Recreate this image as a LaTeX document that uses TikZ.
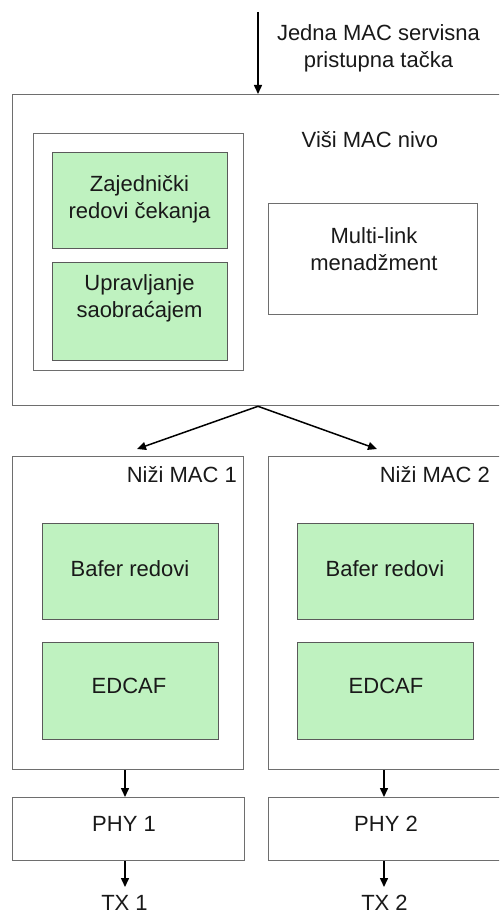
\documentclass[tikz,border=0pt]{standalone}
\usepackage{fontspec}
\setmainfont{Liberation Sans}
\usetikzlibrary{arrows.meta}
\definecolor{boxgreen}{HTML}{BFF2C0}
\definecolor{edge}{HTML}{6E6E6E}
\definecolor{greenedge}{HTML}{5A5A5A}
\begin{document}
\begin{tikzpicture}[x=1pt,y=-1pt,
  font=\fontsize{22}{27}\selectfont,
  frame/.style={draw=edge, line width=1.3pt, inner sep=0pt, anchor=north west},
  greenbox/.style={frame, fill=boxgreen, draw=greenedge},
  lbl/.style={inner sep=0pt, align=center, text=black!90},
  flow/.style={-{Triangle[length=9pt,width=8pt]}, line width=1.5pt, black}]
\useasboundingbox (0,0) rectangle (499,915);
\clip (0,0) rectangle (499,915);

% upper MAC layer
\node[frame, minimum width=498, minimum height=311] (upper) at (12,94) {};
\node[lbl, anchor=base] (uppertext) at (370,147) {Viši MAC nivo};
\node[frame, minimum width=210, minimum height=237] (shared) at (33,133) {};
\node[greenbox, minimum width=175, minimum height=96] (queues) at (52,152) {};
\node[lbl] (queuestext) at (139.5,199) {Zajednički\\redovi čekanja};
\node[greenbox, minimum width=175, minimum height=98] (traffic) at (52,262) {};
\node[lbl] (traffictext) at (139.5,298) {Upravljanje\\saobraćajem};
\node[frame, minimum width=209, minimum height=111] (multilink) at (268,203) {};
\node[lbl] (multilinktext) at (374,249) {Multi-link\\menadžment};

% service access point
\node[lbl] (saptext) at (378.5,48) {Jedna MAC servisna\\pristupna tačka};
\coordinate (sapin) at (258,12);
\draw[flow] (sapin) -- (sapin |- upper.north);

% lower MAC layers
\node[frame, minimum width=231, minimum height=313] (lower1) at (12,456) {};
\node[lbl, anchor=base east] (lower1text) at (237,482) {Niži MAC 1};
\node[greenbox, minimum width=176, minimum height=96] (buf1) at (42,523) {};
\node[lbl, anchor=base] (buf1text) at (130,576) {Bafer redovi};
\node[greenbox, minimum width=176, minimum height=97] (edca1) at (42,642) {};
\node[lbl, anchor=base] (edca1text) at (129,693) {EDCAF};

\node[frame, minimum width=242, minimum height=313] (lower2) at (268,456) {};
\node[lbl, anchor=base east] (lower2text) at (490,482) {Niži MAC 2};
\node[greenbox, minimum width=176, minimum height=96] (buf2) at (297,523) {};
\node[lbl, anchor=base] (buf2text) at (385,576) {Bafer redovi};
\node[greenbox, minimum width=176, minimum height=97] (edca2) at (297,642) {};
\node[lbl, anchor=base] (edca2text) at (386,693) {EDCAF};

% split towards the lower layers
\coordinate (split) at (sapin |- upper.south);
\coordinate (to1) at (137,449);
\coordinate (to2) at (377,449);
\draw[flow] (split) -- (to1);
\draw[flow] (split) -- (to2);

% physical layers
\node[frame, minimum width=232, minimum height=63] (phy1) at (12,797) {};
\node[lbl, anchor=base] (phy1text) at (124,831) {PHY 1};
\node[frame, minimum width=242, minimum height=63] (phy2) at (268,797) {};
\node[lbl, anchor=base] (phy2text) at (386,831) {PHY 2};

\node[lbl, anchor=base] (tx1) at (124.5,910) {TX 1};
\node[lbl, anchor=base] (tx2) at (384.5,910) {TX 2};

\coordinate (col1) at (125,0);
\coordinate (col2) at (384,0);
\coordinate (tx1in) at (125,887);
\coordinate (tx2in) at (384,887);
\draw[flow] (col1 |- lower1.south) -- (col1 |- phy1.north);
\draw[flow] (col2 |- lower2.south) -- (col2 |- phy2.north);
\draw[flow] (col1 |- phy1.south) -- (tx1in);
\draw[flow] (col2 |- phy2.south) -- (tx2in);
\end{tikzpicture}
\end{document}
